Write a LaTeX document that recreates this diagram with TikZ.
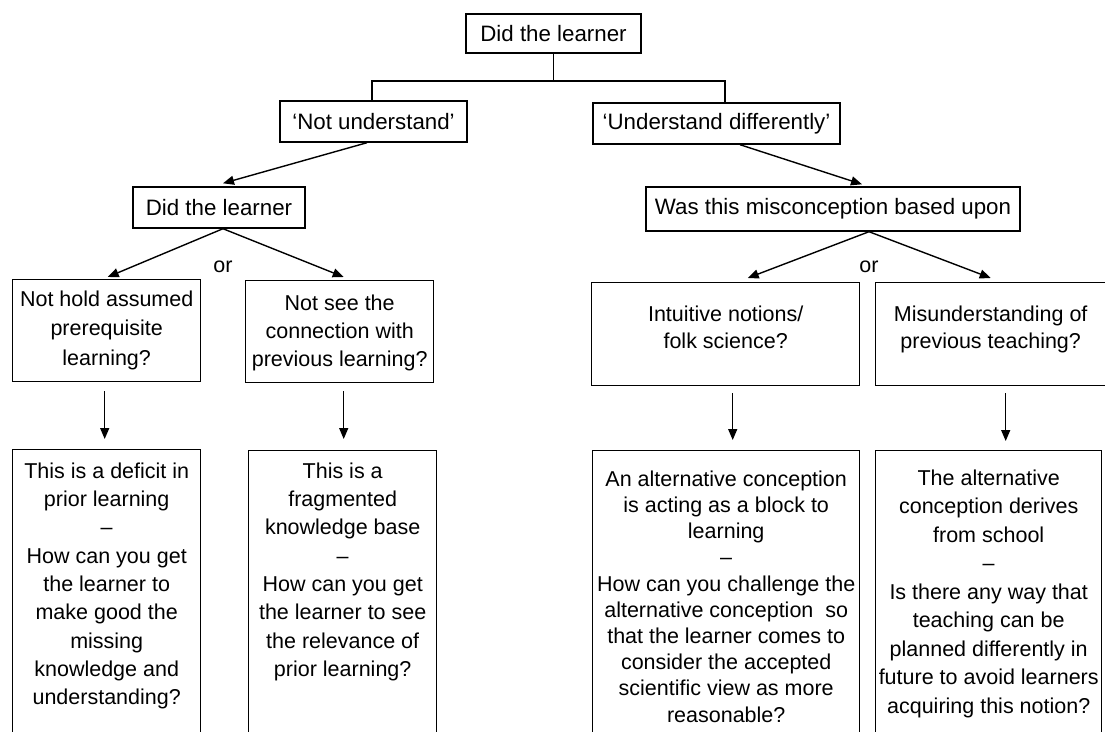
\documentclass[tikz,border=0pt]{standalone}
\usepackage{fontspec}
\setmainfont{Liberation Sans}
\usetikzlibrary{arrows.meta}
\newcommand\bxtext[5]{\parbox[t][#2][t]{#1}{\centering\fontsize{21.5pt}{#4}\selectfont\vspace*{#3}#5\par}}
\begin{document}
\begin{tikzpicture}[x=1pt,y=-1pt,
  font=\fontsize{21.5pt}{26pt}\selectfont,
  line width=1.4pt,
  bx/.style={draw, line width=1.4pt, inner sep=0pt, anchor=north west},
  sbx/.style={draw, line width=1.4pt, inner sep=0pt, font=\fontsize{22.3pt}{26pt}\selectfont},
  arr/.style={-{Triangle[length=11pt,width=9pt]}}]
\useasboundingbox (0,0) rectangle (1105,731);
\clip (0,0) rectangle (1105,731);

% single-line boxes
\node[sbx, minimum width=175pt, minimum height=39pt] (top) at (553.5,33.5) {Did the learner};
\node[sbx, minimum width=187pt, minimum height=41pt] (nu) at (373.5,121.5) {‘Not understand’};
\node[sbx, minimum width=247pt, minimum height=41pt] (ud) at (716.5,123.5) {‘Understand differently’};
\node[sbx, minimum width=172pt, minimum height=41pt] (d2) at (219,207.5) {Did the learner};
\node[sbx, minimum width=374pt, minimum height=44pt] (w) at (833,209) {Was this misconception based upon};

% second row
\node[bx] (l1) at (12,279) {\bxtext{188pt}{102pt}{11pt}{29.5pt}{Not hold assumed\\prerequisite\\learning?}};
\node[bx] (l2) at (245,280) {\bxtext{188pt}{102pt}{14pt}{28pt}{Not see the\\connection with\\previous learning?}};
\node[bx] (r1) at (591,282) {\bxtext{268pt}{103pt}{23pt}{27pt}{Intuitive notions/\\folk science?}};
\node[bx] (r2) at (875,282) {\bxtext{230pt}{103pt}{23pt}{27pt}{Misunderstanding of\\previous teaching?}\rule{20pt}{0pt}};

% bottom row
\node[bx] (b1) at (12,449) {\bxtext{188pt}{310pt}{13pt}{28.3pt}{This is a deficit in\\prior learning\\–\\How can you get\\the learner to\\make good the\\missing\\knowledge and\\understanding?}};
\node[bx] (b2) at (248,450) {\bxtext{188pt}{310pt}{12pt}{28.3pt}{This is a\\fragmented\\knowledge base\\–\\How can you get\\the learner to see\\the relevance of\\prior learning?}};
\node[bx] (b3) at (592,450) {\bxtext{267pt}{310pt}{20pt}{26.2pt}{An alternative conception\\is acting as a block to\\learning\\–\\How can you challenge the\\alternative conception\ \ so\\that the learner comes to\\consider the accepted\\scientific view as more\\reasonable?}};
\node[bx] (b4) at (875,450) {\bxtext{226pt}{310pt}{19pt}{28.5pt}{The alternative\\conception derives\\from school\\–\\Is there any way that\\teaching can be\\planned differently in\\future to avoid learners\\acquiring this notion?}};

% "or" labels
\node (or1) at (223,267) {or};
\node (or2) at (869,267) {or};

% top connector
\coordinate (jl) at (372,81);
\coordinate (jr) at (725,81);
\draw (top.south) -- (top.south |- jl);
\draw (nu.north -| jl) -- (jl) -- (jr) -- (ud.north -| jr);

% diagonal arrows
\draw[arr] ([xshift=-6.5pt]nu.south) -- ([xshift=4pt,yshift=3pt]d2.north);
\draw[arr] ([xshift=23.5pt]ud.south) -- ([xshift=29pt,yshift=2pt]w.north);
\draw[arr] ([xshift=4pt]d2.south) -- ([xshift=1pt,yshift=2pt]l1.north);
\draw[arr] ([xshift=4pt]d2.south) -- ([xshift=4pt,yshift=3pt]l2.north);
\draw[arr] ([xshift=36pt]w.south) -- ([xshift=22pt,yshift=4pt]r1.north);
\draw[arr] ([xshift=36pt]w.south) -- ([xshift=-10pt,yshift=4pt]r2.north);

% vertical arrows
\draw[arr] ([xshift=-2pt,yshift=-9pt]l1.south) -- ([xshift=-2pt,yshift=10pt]b1.north);
\draw[arr] ([xshift=4pt,yshift=-8pt]l2.south) -- ([xshift=1pt,yshift=11pt]b2.north);
\draw[arr] ([xshift=7pt,yshift=-7pt]r1.south) -- ([xshift=6.5pt,yshift=10pt]b3.north);
\draw[arr] ([xshift=5pt,yshift=-7pt]r2.south) -- ([xshift=17pt,yshift=9pt]b4.north);
\end{tikzpicture}
\end{document}
